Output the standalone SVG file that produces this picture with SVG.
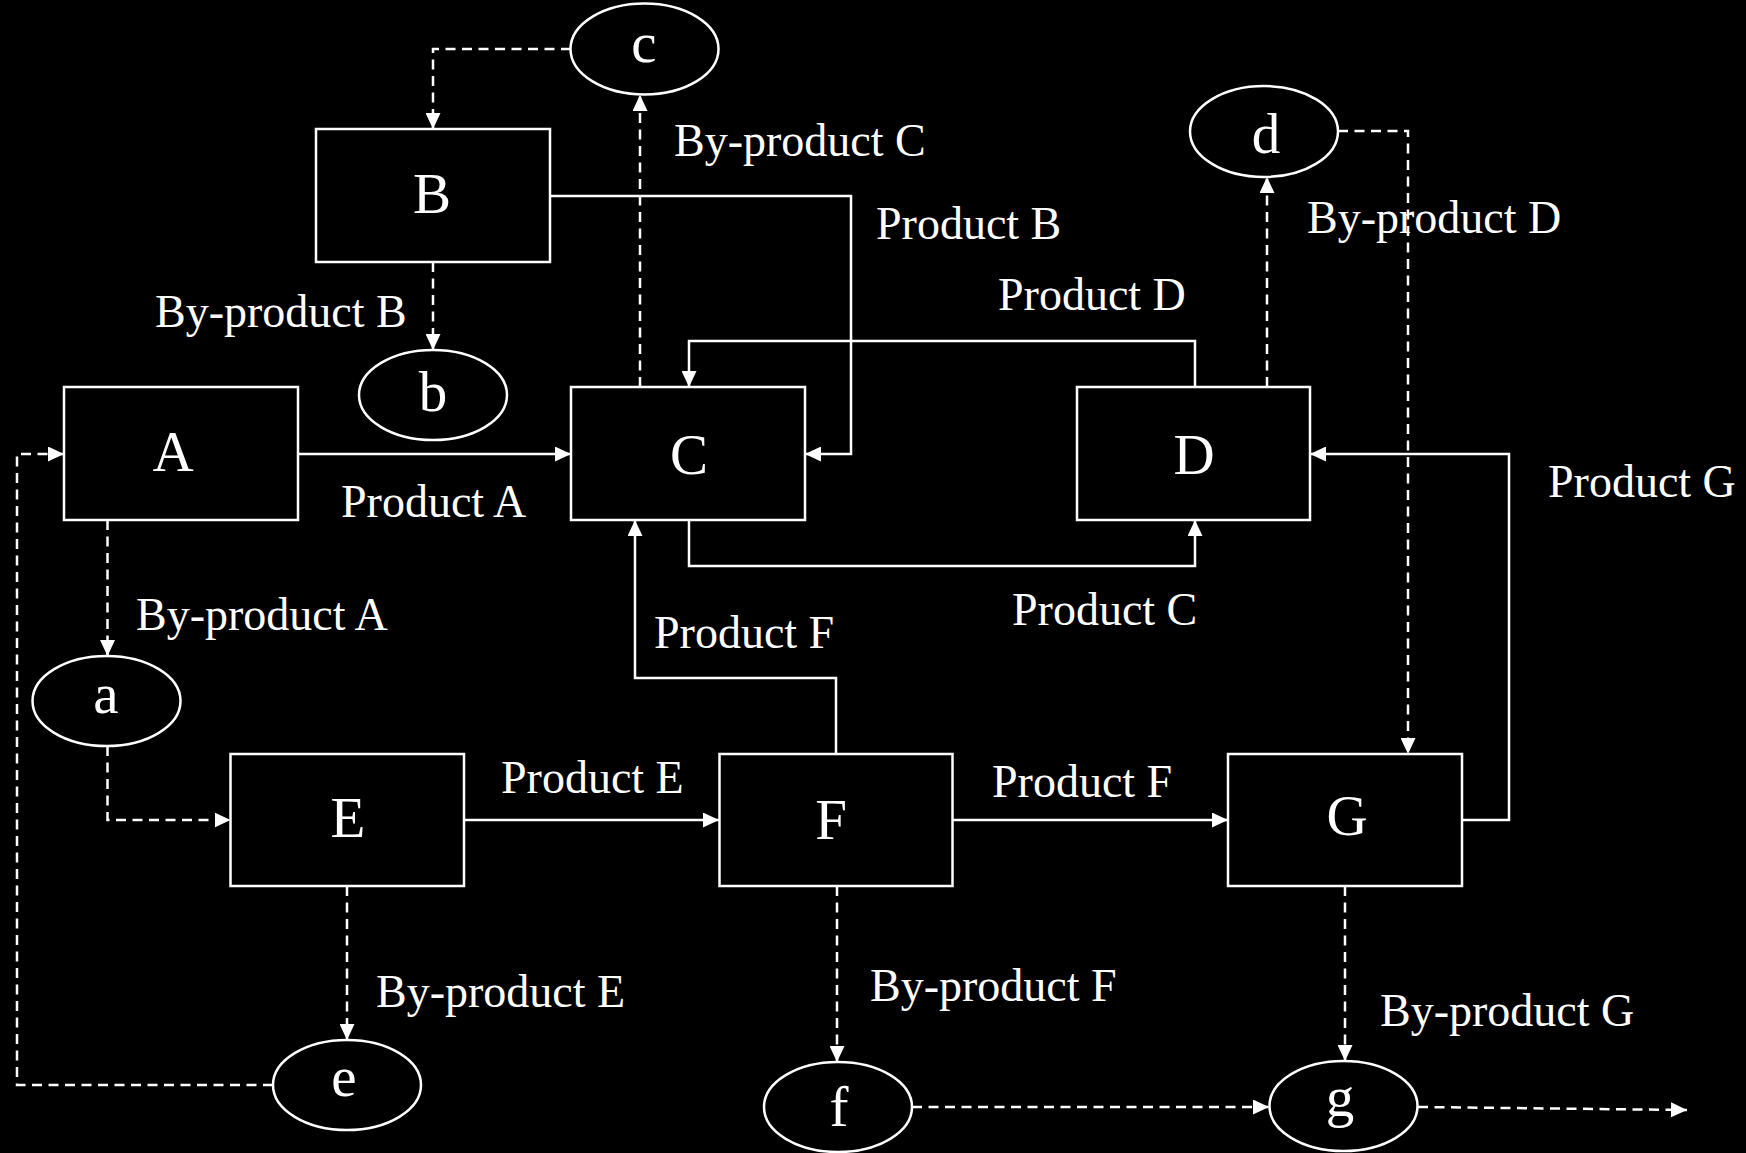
<svg xmlns="http://www.w3.org/2000/svg" width="1746" height="1153" viewBox="0 0 1746 1153">
<defs>
<marker id="ah" markerUnits="userSpaceOnUse" markerWidth="16" markerHeight="15" refX="16" refY="7.5" orient="auto">
<path d="M0,0 L16,7.5 L0,15 z" fill="#fff"/>
</marker>
<style>
.box{fill:#000;stroke:#fff;stroke-width:2.5}
.ell{fill:#000;stroke:#fff;stroke-width:2.5}
.solid{fill:none;stroke:#fff;stroke-width:2.5;marker-end:url(#ah)}
.dash{fill:none;stroke:#fff;stroke-width:2.5;stroke-dasharray:10 6.5;marker-end:url(#ah)}
.lbl{font-family:"Liberation Serif",serif;font-size:46px;fill:#fff}
.nl{font-family:"Liberation Serif",serif;font-size:57px;fill:#fff;text-anchor:middle}
</style>
</defs>
<rect x="0" y="0" width="1746" height="1153" fill="#000"/>
<g id="connectors">
<path class="dash" d="M571,49 H433 V129"/>
<path class="dash" d="M433,262 V350"/>
<path class="dash" d="M640,387 V95"/>
<path class="solid" d="M550,196 H851 V454 H805"/>
<path class="solid" d="M298,454 H571"/>
<path class="solid" d="M1195,387 V341 H689 V387"/>
<path class="solid" d="M689,520 V566 H1195 V520"/>
<path class="dash" d="M1267,387 V177"/>
<path class="dash" d="M1338,131 H1408 V754"/>
<path class="solid" d="M1462,820 H1509 V454 H1310"/>
<path class="dash" d="M107.5,520 V656"/>
<path class="dash" d="M107.5,746 V820 H230.5"/>
<path class="solid" d="M464,820 H719"/>
<path class="solid" d="M836,754 V678 H635 V520"/>
<path class="solid" d="M953,820 H1228"/>
<path class="dash" d="M347,886 V1040"/>
<path class="dash" d="M273,1085 H17 V454 H64"/>
<path class="dash" d="M837,886 V1062"/>
<path class="dash" d="M1345,886 V1061"/>
<path class="dash" d="M912,1107 H1269"/>
<path class="dash" d="M1418,1107 L1687,1110"/>
</g>
<g id="labels">
<text class="lbl" x="674" y="156">By-product C</text>
<text class="lbl" x="876" y="239">Product B</text>
<text class="lbl" x="155" y="327">By-product B</text>
<text class="lbl" x="998" y="310">Product D</text>
<text class="lbl" x="1307" y="233">By-product D</text>
<text class="lbl" x="341" y="517">Product A</text>
<text class="lbl" x="1548" y="497">Product G</text>
<text class="lbl" x="1012" y="625">Product C</text>
<text class="lbl" x="136" y="630">By-product A</text>
<text class="lbl" x="654" y="648">Product F</text>
<text class="lbl" x="501" y="793">Product E</text>
<text class="lbl" x="992" y="797">Product F</text>
<text class="lbl" x="376" y="1007">By-product E</text>
<text class="lbl" x="870" y="1001">By-product F</text>
<text class="lbl" x="1380" y="1026">By-product G</text>
</g>
<g id="node-A"><rect class="box" x="64" y="387" width="234" height="133"/><text class="nl" x="173" y="471">A</text></g>
<g id="node-B"><rect class="box" x="316" y="129" width="234" height="133"/><text class="nl" x="432" y="213">B</text></g>
<g id="node-C"><rect class="box" x="571" y="387" width="234" height="133"/><text class="nl" x="689" y="474">C</text></g>
<g id="node-D"><rect class="box" x="1077" y="387" width="233" height="133"/><text class="nl" x="1194" y="474">D</text></g>
<g id="node-E"><rect class="box" x="230.5" y="754" width="233.5" height="132"/><text class="nl" x="348" y="837">E</text></g>
<g id="node-F"><rect class="box" x="719.5" y="754" width="233" height="132"/><text class="nl" x="831" y="839">F</text></g>
<g id="node-G"><rect class="box" x="1228" y="754" width="234" height="132"/><text class="nl" x="1347" y="835">G</text></g>
<g id="node-a"><ellipse class="ell" cx="106.5" cy="701" rx="74" ry="45"/><text class="nl" x="106" y="713">a</text></g>
<g id="node-b"><ellipse class="ell" cx="433" cy="395" rx="74" ry="45"/><text class="nl" x="433" y="411">b</text></g>
<g id="node-c"><ellipse class="ell" cx="644.5" cy="49" rx="74" ry="45.5"/><text class="nl" x="644" y="62">c</text></g>
<g id="node-d"><ellipse class="ell" cx="1264" cy="131.5" rx="74" ry="45.5"/><text class="nl" x="1266" y="153">d</text></g>
<g id="node-e"><ellipse class="ell" cx="347" cy="1085" rx="74" ry="45"/><text class="nl" x="344" y="1096">e</text></g>
<g id="node-f"><ellipse class="ell" cx="838" cy="1107" rx="74" ry="45"/><text class="nl" x="839" y="1126">f</text></g>
<g id="node-g"><ellipse class="ell" cx="1343.5" cy="1106" rx="74" ry="45"/><text class="nl" x="1340" y="1116">g</text></g>
</svg>
